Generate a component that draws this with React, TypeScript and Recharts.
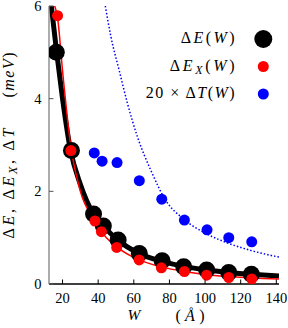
import { ComposedChart, Line, Scatter, XAxis, YAxis } from 'recharts';

const SERIF = "'Liberation Serif', 'DejaVu Serif', serif";
const serifStyle = { fontFamily: SERIF };

// axis ticks
const wTicks = [20, 40, 60, 80, 100, 120, 140];
const eTicks = [0, 2, 4, 6];

// Delta E(W) points (black)
const deltaEW = [16.5, 25, 37.4, 42.9, 51.2, 63.1, 75.9, 88, 100.9, 113.3, 126];
const deltaE = [5.0, 2.88, 1.51, 1.25, 0.95, 0.66, 0.5, 0.37, 0.3, 0.25, 0.21];

// Delta E_X(W) points (red)
const deltaEXW = [17.2, 24.7, 38.2, 41.8, 50.4, 63, 75.5, 88.4, 100.9, 113.3, 126.2];
const deltaEX = [5.79, 2.88, 1.36, 1.13, 0.79, 0.52, 0.35, 0.27, 0.19, 0.14, 0.11];

// 20 x Delta T(W) points (blue)
const deltaTW = [37.8, 42.2, 50.6, 63.1, 75.7, 88.4, 101.1, 113.3, 126.2];
const deltaT20 = [2.83, 2.65, 2.62, 2.23, 1.83, 1.38, 1.17, 1.0, 0.91];

// fitted curves
const fitEW = [13.7, 16.7, 20, 24.4, 30, 37.5, 43, 51, 63, 76, 88, 101, 113, 126, 141.5];
const fitE = [6.0, 5.0, 4.0, 2.9, 2.15, 1.5, 1.25, 0.95, 0.66, 0.49, 0.38, 0.3, 0.25, 0.21, 0.17];

const fitEXW = [15.6, 17.2, 20, 24.7, 30, 38.2, 41.8, 50.4, 63, 75.5, 88.4, 100.9, 113.3, 126.2, 141.5];
const fitEX = [6.0, 5.75, 4.6, 2.95, 2.0, 1.36, 1.13, 0.8, 0.52, 0.37, 0.27, 0.2, 0.16, 0.13, 0.11];

const fitTW = [44, 47.2, 51.8, 56.5, 62.1, 69.6, 78, 88, 101, 113, 126, 141.5];
const fitT = [6.0, 5.33, 4.61, 3.89, 3.17, 2.45, 1.8, 1.4, 1.08, 0.88, 0.72, 0.58];

const toPoints = (ws: number[], vs: number[]) => ws.map((w, i) => ({ w, v: vs[i] }));

const BLUE = '#0000ff';
const RED = '#ff0000';

const circleShape = (r: number, fill: string) => (props: any) => {
  const { cx, cy } = props;
  if (cx == null || cy == null) return <g />;
  return <circle cx={cx} cy={cy} r={r} fill={fill} />;
};

const BottomTick = ({ x, y, payload }: any) => (
  <g>
    <line x1={x} y1={y} x2={x} y2={y - 4.5} stroke="#000" strokeWidth={1} />
    <text x={x} y={y + 19} textAnchor="middle" style={serifStyle} fontSize={14.5} fill="#000">
      {payload.value}
    </text>
  </g>
);

const TopTick = ({ x, y }: any) => (
  <line x1={x} y1={y} x2={x} y2={y + 4.5} stroke="#000" strokeWidth={1} />
);

const LeftTick = ({ x, y, payload }: any) => (
  <g>
    <line x1={x} y1={y} x2={x + 4.5} y2={y} stroke="#555" strokeWidth={1} />
    <text x={x - 7.5} y={y + 5} textAnchor="end" style={serifStyle} fontSize={14.5} fill="#000">
      {payload.value}
    </text>
  </g>
);

const RightTick = ({ x, y }: any) => (
  <line x1={x} y1={y} x2={x - 4.5} y2={y} stroke="#555" strokeWidth={1} />
);

const YTitle = () => (
  <g style={serifStyle} fontSize={16} fill="#000">
    <text transform="translate(14,183.5) rotate(-90)" textAnchor="middle" textLength={110} lengthAdjust="spacing">
      <tspan>Δ</tspan>
      <tspan fontStyle="italic">E</tspan>
      <tspan>, Δ</tspan>
      <tspan fontStyle="italic">E</tspan>
      <tspan fontStyle="italic" fontSize={12} dy={3}>X</tspan>
      <tspan dy={-3}>, Δ</tspan>
      <tspan fontStyle="italic">T</tspan>
    </text>
    <text transform="translate(14,75) rotate(-90)" textAnchor="middle" textLength={45} lengthAdjust="spacing">
      <tspan>(</tspan>
      <tspan fontStyle="italic">meV</tspan>
      <tspan>)</tspan>
    </text>
  </g>
);

const XTitle = () => (
  <g style={serifStyle} fill="#000">
    <text x={134} y={319.5} textAnchor="middle" fontStyle="italic" fontSize={15.5}>W</text>
    <text x={190} y={321} textAnchor="middle" fontSize={16} textLength={29} lengthAdjust="spacing">
      <tspan>(</tspan>
      <tspan fontStyle="italic">Å</tspan>
      <tspan>)</tspan>
    </text>
  </g>
);

const legendRows = [
  { key: 'e', y: 43, color: '#000', r: 9 },
  { key: 'ex', y: 70.5, color: RED, r: 5.5 },
  { key: 't', y: 98, color: BLUE, r: 5.5 },
];

const ChartLegend = () => (
  <svg
    width={288}
    height={328}
    style={{ position: 'absolute', left: 0, top: 0, pointerEvents: 'none', fontFamily: SERIF }}
    fontSize={16}
  >
    <text x={234.7} y={legendRows[0].y} textAnchor="end" textLength={54} lengthAdjust="spacing">
      <tspan>Δ</tspan>
      <tspan fontStyle="italic">E</tspan>
      <tspan>(</tspan>
      <tspan fontStyle="italic">W</tspan>
      <tspan>)</tspan>
    </text>
    <text x={234.7} y={legendRows[1].y} textAnchor="end" textLength={65} lengthAdjust="spacing">
      <tspan>Δ</tspan>
      <tspan fontStyle="italic">E</tspan>
      <tspan fontStyle="italic" fontSize={12} dy={3}>X</tspan>
      <tspan dy={-3}>(</tspan>
      <tspan fontStyle="italic">W</tspan>
      <tspan>)</tspan>
    </text>
    <text x={234.7} y={legendRows[2].y} textAnchor="end" textLength={89} lengthAdjust="spacing">
      <tspan>20 × Δ</tspan>
      <tspan fontStyle="italic">T</tspan>
      <tspan>(</tspan>
      <tspan fontStyle="italic">W</tspan>
      <tspan>)</tspan>
    </text>
    {legendRows.map((row) => (
      <circle key={row.key} cx={263.3} cy={row.y - 4} r={row.r} fill={row.color} />
    ))}
  </svg>
);

export default function App() {
  return (
    <div
      style={{
        position: 'absolute',
        left: 0,
        top: 0,
        width: 288,
        height: 328,
        background: '#fff',
        fontFamily: SERIF,
      }}
    >
      <ComposedChart width={288} height={328} margin={{ top: 6, right: 9, bottom: 0, left: 0 }}>
        <XAxis
          dataKey="w"
          type="number"
          domain={[12.4, 141.5]}
          allowDataOverflow
          ticks={wTicks}
          interval={0}
          height={44}
          tickSize={0}
          tickMargin={0}
          tick={<BottomTick />}
          axisLine={{ stroke: '#000', strokeWidth: 1.3 }}
          label={<XTitle />}
        />
        <XAxis
          xAxisId="top"
          orientation="top"
          dataKey="w"
          type="number"
          domain={[12.4, 141.5]}
          allowDataOverflow
          ticks={wTicks}
          interval={0}
          height={0}
          tickSize={0}
          tickMargin={0}
          tick={<TopTick />}
          axisLine={{ stroke: '#000', strokeWidth: 1.3 }}
        />
        <YAxis
          type="number"
          domain={[0, 6]}
          allowDataOverflow
          ticks={eTicks}
          interval={0}
          width={49}
          tickSize={0}
          tickMargin={0}
          tick={<LeftTick />}
          axisLine={{ stroke: '#808080', strokeWidth: 1.3 }}
          label={<YTitle />}
        />
        <YAxis
          yAxisId="right"
          orientation="right"
          type="number"
          domain={[0, 6]}
          allowDataOverflow
          ticks={eTicks}
          interval={0}
          width={0}
          tickSize={0}
          tickMargin={0}
          tick={<RightTick />}
          axisLine={{ stroke: '#000', strokeWidth: 1.3 }}
        />
        <Line
          data={toPoints(fitEW, fitE)}
          dataKey="v"
          type="monotone"
          stroke="#000"
          strokeWidth={5}
          dot={false}
          activeDot={false}
          isAnimationActive={false}
        />
        <Scatter
          data={toPoints(deltaEW, deltaE)}
          dataKey="v"
          shape={circleShape(8.5, '#000')}
          isAnimationActive={false}
        />
        <Line
          data={toPoints(fitEXW, fitEX)}
          dataKey="v"
          type="monotone"
          stroke={RED}
          strokeWidth={1.5}
          dot={false}
          activeDot={false}
          isAnimationActive={false}
        />
        <Scatter
          data={toPoints(deltaEXW, deltaEX)}
          dataKey="v"
          shape={circleShape(5.5, RED)}
          isAnimationActive={false}
        />
        <Line
          data={toPoints(fitTW, fitT)}
          dataKey="v"
          type="monotone"
          stroke={BLUE}
          strokeWidth={1.5}
          strokeDasharray="1.5 2"
          dot={false}
          activeDot={false}
          isAnimationActive={false}
        />
        <Scatter
          data={toPoints(deltaTW, deltaT20)}
          dataKey="v"
          shape={circleShape(5.5, BLUE)}
          isAnimationActive={false}
        />
      </ComposedChart>
      <ChartLegend />
    </div>
  );
}
